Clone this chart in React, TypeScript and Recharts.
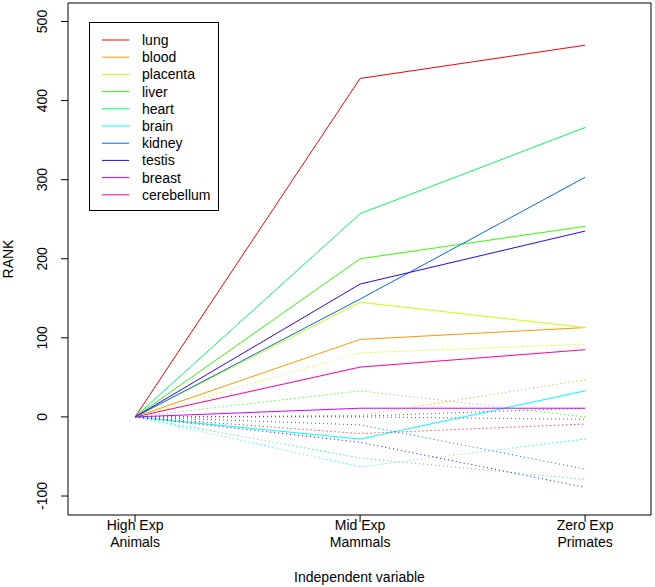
import { LineChart, Line, XAxis, YAxis, ReferenceArea } from 'recharts';

const stages = [1, 2, 3];
const stageTop = ['High Exp', 'Mid Exp', 'Zero Exp'];
const stageBottom = ['Animals', 'Mammals', 'Primates'];

const tissues = ['lung', 'blood', 'placenta', 'liver', 'heart', 'brain', 'kidney', 'testis', 'breast', 'cerebellum'];
const colors = ['#FF0000', '#FF9900', '#CCFF00', '#33FF00', '#00FF66', '#00FFFF', '#0066FF', '#3300FF', '#CC00FF', '#FF0099'];

// solid lines, one value per tissue
const solidHigh = [0, 0, 0, 0, 0, 0, 0, 0, 0, 0];
const solidMid = [428, 98, 145, 200, 257, -28, 149, 168, 11, 63];
const solidZero = [470, 113, 113, 241, 366, 33, 303, 235, 11, 85];

// dotted lines, one value per tissue
const dottedHigh = [0, 0, 0, 0, 0, 0, 0, 0, 0, 0];
const dottedMid = [-21, 2, 81, 33, -52, -63, -10, -32, 0, 1];
const dottedZero = [-9, 47, 92, 0, -79, -28, -66, -89, -3, 11];

const yTicks = [-100, 0, 100, 200, 300, 400, 500];

const xDomain = [0.702, 3.293];
const yDomain = [-124, 523.4];

const stageValues = [
  [solidHigh, dottedHigh],
  [solidMid, dottedMid],
  [solidZero, dottedZero],
];

const data = stages.map((s, i) => {
  const row: Record<string, number> = { stage: s };
  tissues.forEach((t, j) => {
    row[t] = stageValues[i][0][j];
    row[t + '_d'] = stageValues[i][1][j];
  });
  return row;
});

const FONT = '"Liberation Sans", Arial, Helvetica, sans-serif';

const XTick = (props: any) => {
  const { x, y, payload } = props;
  const i = stages.indexOf(payload.value);
  return (
    <text textAnchor="middle" fontSize={14} fill="#000" fontFamily={FONT}>
      <tspan x={x} y={y + 6}>{stageTop[i]}</tspan>
      <tspan x={x} y={y + 23}>{stageBottom[i]}</tspan>
    </text>
  );
};

const YTick = (props: any) => {
  const { x, y, payload } = props;
  const bx = x - 12;
  return (
    <text
      x={bx}
      y={y}
      transform={`rotate(-90, ${bx}, ${y})`}
      textAnchor="middle"
      fontSize={14}
      fill="#000"
      fontFamily={FONT}
    >
      {payload.value}
    </text>
  );
};

function LegendBox() {
  return (
    <svg
      width={131}
      height={190}
      style={{ position: 'absolute', left: 89, top: 22 }}
    >
      <rect x={0.5} y={0.5} width={129} height={188} fill="#fff" stroke="#000" />
      {tissues.map((t, i) => {
        const cy = 18 + i * 17.2;
        return (
          <g key={t}>
            <line x1={13} x2={40} y1={cy} y2={cy} stroke={colors[i]} strokeWidth={1} />
            <text x={53} y={cy + 5} fontSize={14} fill="#000" fontFamily={FONT}>
              {t}
            </text>
          </g>
        );
      })}
    </svg>
  );
}

export default function App() {
  return (
    <div style={{ position: 'absolute', left: 0, top: 0, width: 655, height: 587, background: '#fff', fontFamily: FONT }}>
      <LineChart width={655} height={587} data={data} margin={{ top: 3, right: 4, bottom: 0, left: 0 }}>
        <XAxis
          dataKey="stage"
          type="number"
          domain={xDomain}
          allowDataOverflow
          ticks={stages}
          tick={<XTick />}
          tickSize={7}
          tickLine={{ stroke: '#000' }}
          axisLine={false}
          height={72}
          interval={0}
          label={{
            content: (p: any) => {
              const vb = p.viewBox;
              return (
                <text x={vb.x + vb.width / 2} y={vb.y + 67} textAnchor="middle" fontSize={14} fill="#000" fontFamily={FONT}>
                  Independent variable
                </text>
              );
            },
          }}
        />
        <YAxis
          type="number"
          domain={yDomain}
          allowDataOverflow
          ticks={yTicks}
          tick={<YTick />}
          tickSize={7}
          tickLine={{ stroke: '#000' }}
          axisLine={false}
          width={68}
          interval={0}
          label={{
            content: (p: any) => {
              const vb = p.viewBox;
              const cx = 13;
              const cy = vb.y + vb.height / 2;
              return (
                <text x={cx} y={cy} transform={`rotate(-90, ${cx}, ${cy})`} textAnchor="middle" fontSize={14} fill="#000" fontFamily={FONT}>
                  RANK
                </text>
              );
            },
          }}
        />
        <ReferenceArea
          x1={xDomain[0]}
          x2={xDomain[1]}
          y1={yDomain[0]}
          y2={yDomain[1]}
          fill="none"
          fillOpacity={0}
          stroke="#000"
          strokeWidth={1}
          ifOverflow="visible"
        />
        {tissues.map((t, i) => (
          <Line
            key={t}
            dataKey={t}
            type="linear"
            stroke={colors[i]}
            strokeWidth={1}
            dot={false}
            isAnimationActive={false}
          />
        ))}
        {tissues.map((t, i) => (
          <Line
            key={t + '_d'}
            dataKey={t + '_d'}
            type="linear"
            stroke={colors[i]}
            strokeWidth={1}
            strokeDasharray="1 3"
            dot={false}
            isAnimationActive={false}
          />
        ))}
      </LineChart>
      <LegendBox />
    </div>
  );
}
